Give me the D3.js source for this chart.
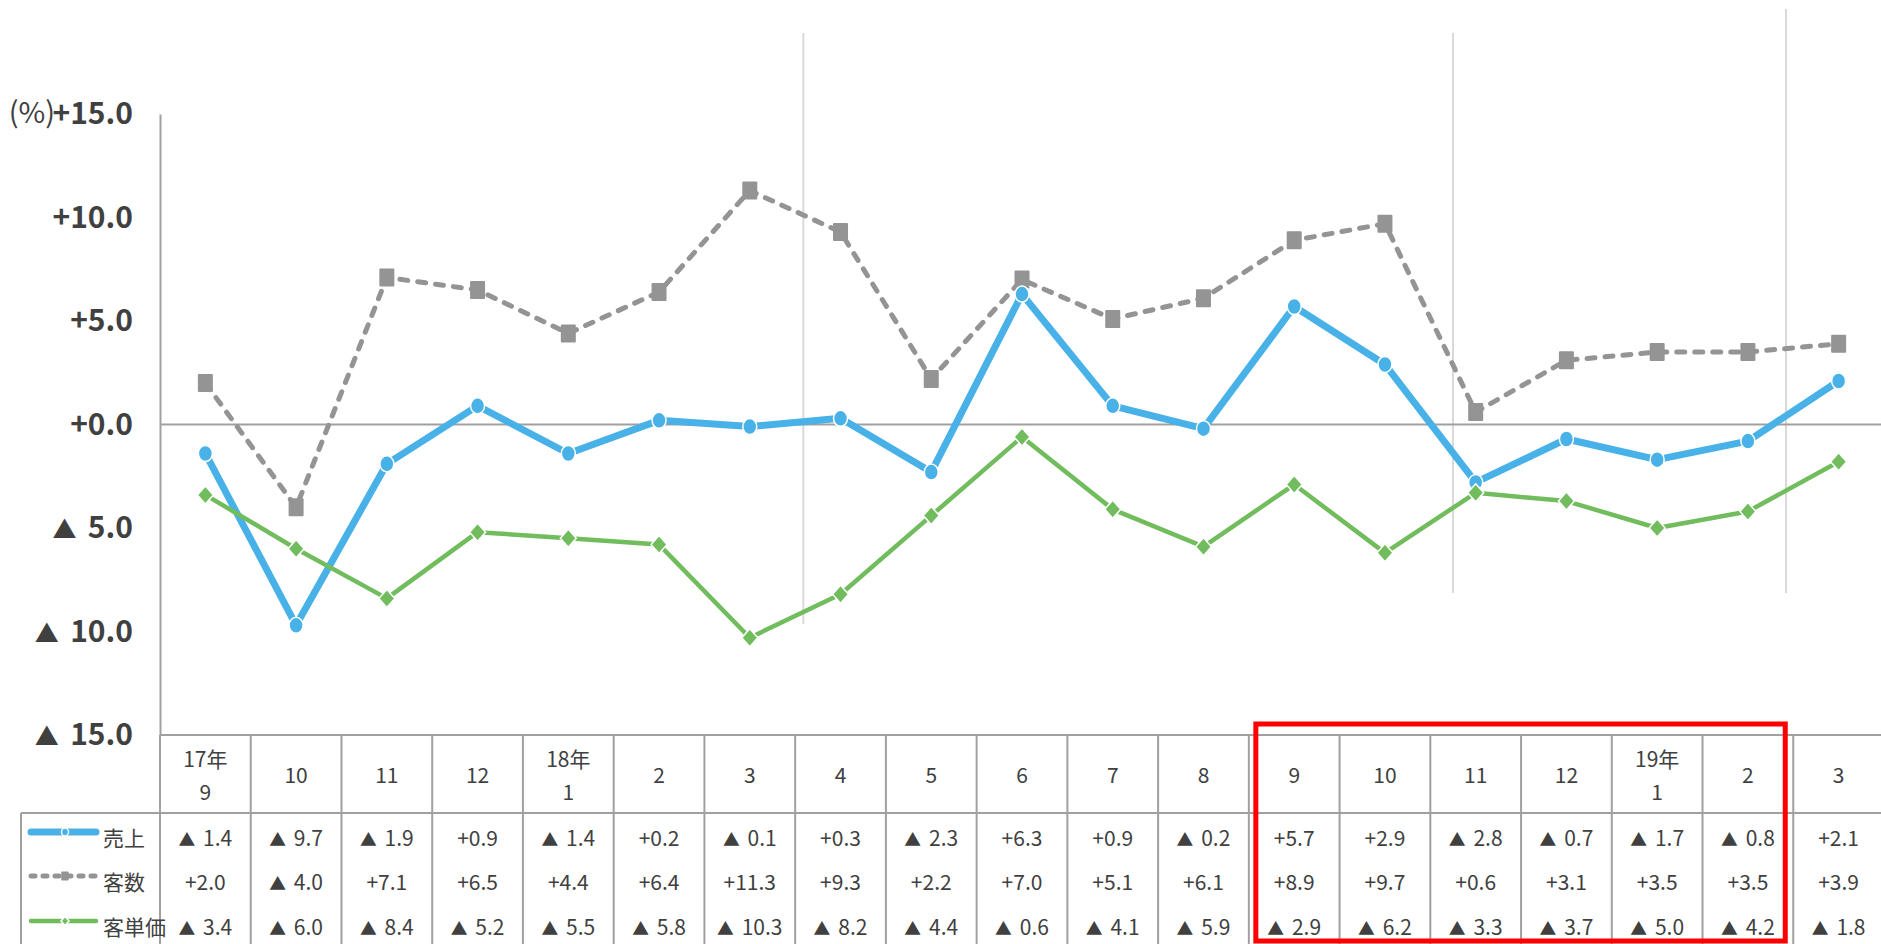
<!DOCTYPE html>
<html>
<head>
<meta charset="utf-8">
<script src="https://cdn.jsdelivr.net/npm/d3@7"></script>
<style>
  body { margin: 0; background: #fff; }
  svg { display: block; font-family: "Noto Sans CJK JP", "Noto Sans", sans-serif; }
</style>
</head>
<body>
<div id="chart"></div>
<script>
// Table header: month, plus the year mark shown above the first month of a year.
const months = ["9", "10", "11", "12", "1", "2", "3", "4", "5", "6", "7", "8", "9", "10", "11", "12", "1", "2", "3"];
const years  = ["17年", "", "", "", "18年", "", "", "", "", "", "", "", "", "", "", "", "19年", "", ""];

// Year-on-year change, %.
const sales    = [-1.4, -9.7, -1.9, 0.9, -1.4, 0.2, -0.1, 0.3, -2.3, 6.3, 0.9, -0.2, 5.7, 2.9, -2.8, -0.7, -1.7, -0.8, 2.1];
const visitors = [2.0, -4.0, 7.1, 6.5, 4.4, 6.4, 11.3, 9.3, 2.2, 7.0, 5.1, 6.1, 8.9, 9.7, 0.6, 3.1, 3.5, 3.5, 3.9];
const spend    = [-3.4, -6.0, -8.4, -5.2, -5.5, -5.8, -10.3, -8.2, -4.4, -0.6, -4.1, -5.9, -2.9, -6.2, -3.3, -3.7, -5.0, -4.2, -1.8];

const seriesNames = ["売上", "客数", "客単価"];
const yTicks = [15, 10, 5, 0, -5, -10, -15];

// Columns boxed in red (first, last index).
const highlight = [12, 17];

// Canvas and layout.
const W = 1881, H = 944;
const plotLeft = 160, plotRight = 1884, plotTop = 114, plotBottom = 735;
const headerBottom = 813;
const rowY = [839, 883, 928];
const textColor = "#404040", gridColor = "#a0a0a0";

// Thin light guides left on the original sheet (x in column units, y in px).
const guides = [
    {col: 7.09, top: 33, bottom: 624},
    {col: 14.25, top: 33, bottom: 593},
    {col: 17.92, top: 9, bottom: 593}
];

const svg = d3.select("#chart").append("svg")
    .attr("width", W)
    .attr("height", H);

const x = d3.scaleBand().domain(d3.range(months.length)).range([plotLeft, plotRight]);
const y = d3.scaleLinear().domain([-15, 15]).range([plotBottom, plotTop]);
const bw = x.bandwidth();
const cx = i => x(i) + bw / 2;
const colX = c => plotLeft + c * bw;

// Negative values are written with a small triangle, as on the sheet.
function writeValue(sel, v) {
    sel.text(null);
    if (v < 0) {
        sel.append("tspan").attr("font-size", "0.8em").text("▲");
        sel.append("tspan").attr("dx", "0.15em").text(" " + Math.abs(v).toFixed(1));
    } else {
        sel.text("+" + v.toFixed(1));
    }
}

// Light guides.
svg.append("g").selectAll("line")
    .data(guides)
    .join("line")
        .attr("x1", d => colX(d.col)).attr("x2", d => colX(d.col))
        .attr("y1", d => d.top).attr("y2", d => d.bottom)
        .attr("stroke", "#d9d9d9").attr("stroke-width", 2);

// Zero line.
svg.append("line")
    .attr("x1", plotLeft).attr("x2", W)
    .attr("y1", y(0)).attr("y2", y(0))
    .attr("stroke", gridColor).attr("stroke-width", 2);

// Y axis.
const yAxis = svg.append("g")
    .attr("transform", "translate(" + plotLeft + ",0)")
    .call(d3.axisLeft(y).tickValues(yTicks).tickSize(0).tickSizeOuter(0).tickPadding(27));

yAxis.attr("font-family", null);
yAxis.select(".domain").attr("stroke", gridColor).attr("stroke-width", 2);
yAxis.selectAll("text")
    .attr("font-size", 30)
    .attr("font-weight", "bold")
    .attr("fill", textColor)
    .each(function(d) { writeValue(d3.select(this), d); });

svg.append("text")
    .attr("x", 55).attr("y", y(15))
    .attr("dy", "0.32em")
    .attr("text-anchor", "end")
    .attr("font-size", 29)
    .attr("fill", textColor)
    .text("(%)");

/* -------------------------------------------------------------------------
 * Series
 * ---------------------------------------------------------------------- */

const series = [
    {name: seriesNames[0], values: sales, color: "#48b1e7", width: 7, dash: null, marker: "circle"},
    {name: seriesNames[1], values: visitors, color: "#949494", width: 5, dash: "8 10", marker: "square"},
    {name: seriesNames[2], values: spend, color: "#71bc5d", width: 4.5, dash: null, marker: "diamond"}
];
const drawOrder = [1, 0, 2];

const line = d3.line().x((d, i) => cx(i)).y(d => y(d));

function drawMarker(g, kind, color, px, py, s) {
    if (kind === "circle") {
        g.append("ellipse")
            .attr("cx", px).attr("cy", py)
            .attr("rx", 7 * s).attr("ry", 8 * s)
            .attr("fill", color)
            .attr("stroke", "#fff").attr("stroke-width", 1.5);
    } else if (kind === "square") {
        g.append("rect")
            .attr("x", px - 7.5 * s).attr("y", py - 9 * s)
            .attr("width", 15 * s).attr("height", 18 * s)
            .attr("rx", 1)
            .attr("fill", color);
    } else {
        const w = 8 * s, h = 9 * s;
        g.append("path")
            .attr("d", "M" + px + "," + (py - h) + "L" + (px + w) + "," + py +
                       "L" + px + "," + (py + h) + "L" + (px - w) + "," + py + "Z")
            .attr("fill", color)
            .attr("stroke", "#fff").attr("stroke-width", 1.5);
    }
}

const linesG = svg.append("g");
drawOrder.forEach(k => {
    const s = series[k];
    linesG.append("path")
        .attr("d", line(s.values))
        .attr("fill", "none")
        .attr("stroke", s.color)
        .attr("stroke-width", s.width)
        .attr("stroke-linejoin", "round")
        .attr("stroke-linecap", "round")
        .attr("stroke-dasharray", s.dash);
});

const markersG = svg.append("g");
drawOrder.forEach(k => {
    const s = series[k];
    s.values.forEach((v, i) => drawMarker(markersG, s.marker, s.color, cx(i), y(v), 1));
});

/* -------------------------------------------------------------------------
 * Data table
 * ---------------------------------------------------------------------- */

const table = svg.append("g");

// Horizontal rules.
table.append("line")
    .attr("x1", plotLeft).attr("x2", W)
    .attr("y1", plotBottom).attr("y2", plotBottom)
    .attr("stroke", gridColor).attr("stroke-width", 2);
table.append("line")
    .attr("x1", 21).attr("x2", W)
    .attr("y1", headerBottom).attr("y2", headerBottom)
    .attr("stroke", gridColor).attr("stroke-width", 2);
table.append("line")
    .attr("x1", 21).attr("x2", 21)
    .attr("y1", headerBottom).attr("y2", H)
    .attr("stroke", gridColor).attr("stroke-width", 2);

// Column rules.
table.selectAll("line.col")
    .data(d3.range(months.length))
    .join("line")
        .attr("class", "col")
        .attr("x1", i => x(i)).attr("x2", i => x(i))
        .attr("y1", plotBottom).attr("y2", H)
        .attr("stroke", gridColor).attr("stroke-width", 2);

// Header labels.
const head = table.append("g")
    .attr("font-size", 21)
    .attr("fill", textColor)
    .attr("text-anchor", "middle");

months.forEach((m, i) => {
    if (years[i]) {
        head.append("text").attr("x", cx(i)).attr("y", 760).attr("dy", "0.35em").text(years[i]);
        head.append("text").attr("x", cx(i)).attr("y", 793).attr("dy", "0.35em").text(m);
    } else {
        head.append("text").attr("x", cx(i)).attr("y", 776).attr("dy", "0.35em").text(m);
    }
});

// Value rows.
const body = table.append("g")
    .attr("font-size", 21)
    .attr("fill", textColor);

series.forEach((s, r) => {
    body.selectAll("text.r" + r)
        .data(s.values)
        .join("text")
            .attr("class", "r" + r)
            .attr("x", (d, i) => cx(i))
            .attr("y", rowY[r])
            .attr("dy", "0.35em")
            .attr("text-anchor", "middle")
            .each(function(d) { writeValue(d3.select(this), d); });

    // Legend key in the first column.
    const ly = rowY[r] - 7;
    const key = body.append("g");
    key.append("line")
        .attr("x1", 31).attr("x2", 96)
        .attr("y1", ly).attr("y2", ly)
        .attr("stroke", s.color)
        .attr("stroke-width", s.width)
        .attr("stroke-linecap", "round")
        .attr("stroke-dasharray", s.dash ? "4 8" : null);
    drawMarker(key, s.marker, s.color, 65, ly, 0.5);

    body.append("text")
        .attr("x", 103).attr("y", rowY[r])
        .attr("dy", "0.35em")
        .text(s.name);
});

// Red box round the highlighted months.
svg.append("rect")
    .attr("x", x(highlight[0]) + 7)
    .attr("y", plotBottom - 11)
    .attr("width", x(highlight[1]) + bw - 8 - (x(highlight[0]) + 7))
    .attr("height", H - 3 - (plotBottom - 11))
    .attr("fill", "none")
    .attr("stroke", "#ff0000")
    .attr("stroke-width", 5);
</script>
</body>
</html>
